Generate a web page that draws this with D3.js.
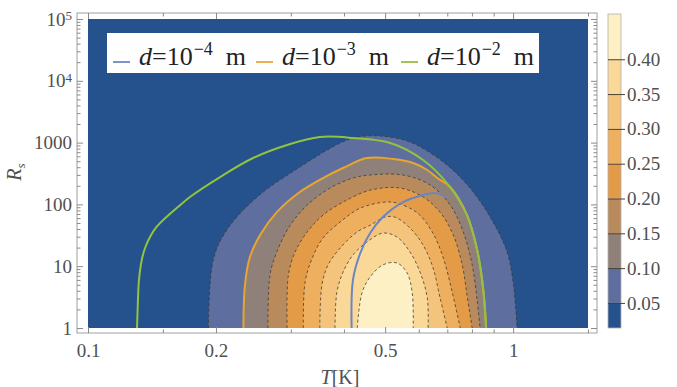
<!DOCTYPE html>
<html>
<head>
<meta charset="utf-8">
<script src="https://cdn.jsdelivr.net/npm/d3@7"></script>
<style>
  body { margin: 0; background: #fff; }
  text { font-family: "Liberation Serif", "Times New Roman", serif; }
</style>
</head>
<body>
<svg id="chart"></svg>
<script>
// contour levels and the colours of the bands between them
const levels = [0.05, 0.10, 0.15, 0.20, 0.25, 0.30, 0.35, 0.40];
const bandColors = ["#25528c", "#5e6e9e", "#8f807a", "#b98b5c", "#e39b48",
                    "#eeb05f", "#f4c47c", "#f9d898", "#fdf0c4"];

// contour boundaries, [T (K), Rs]
const contour05 = [[0.192,1],[0.197,12.6],[0.212,38.5],[0.250,132],[0.315,403],[0.392,985],[0.430,1232],[0.486,1279],[0.572,1023],[0.685,486],[0.792,184],[0.897,52],[0.968,17],[1.0,5.5],[1.022,1]];
const contour10 = [[0.232,1],[0.234,5],[0.240,13.6],[0.254,32],[0.278,75],[0.315,159],[0.357,267],[0.398,388],[0.453,563],[0.522,543],[0.582,468],[0.628,360],[0.663,267],[0.711,191],[0.779,67],[0.823,18.3],[0.850,4.4],[0.864,1]];
const contour15 = [[0.265,1],[0.268,7.2],[0.278,17],[0.299,46],[0.328,98],[0.371,184],[0.420,267],[0.461,299],[0.551,299],[0.638,206],[0.711,98],[0.763,36],[0.801,10.5],[0.823,2.8],[0.836,1]];
const contour20 = [[0.294,1],[0.296,7.2],[0.307,17],[0.328,36],[0.357,67],[0.398,109],[0.461,170],[0.542,184],[0.614,132],[0.673,75],[0.723,32],[0.759,10.5],[0.779,3.4],[0.801,1]];
const contour25 = [[0.321,1],[0.324,5.5],[0.337,13.6],[0.357,28.6],[0.392,52],[0.437,87],[0.500,109],[0.533,105],[0.595,73],[0.645,36],[0.685,13.6],[0.719,3.8],[0.751,1]];
const contour30 = [[0.351,1],[0.355,5],[0.367,10.5],[0.392,19.7],[0.430,36],[0.461,46],[0.500,62.5],[0.528,62],[0.572,41.5],[0.614,22],[0.648,9.4],[0.673,3.1],[0.700,1]];
const contour35 = [[0.381,1],[0.385,3.8],[0.398,8],[0.420,15.2],[0.453,24.6],[0.494,34.4],[0.533,29.7],[0.572,17],[0.604,8],[0.628,3.1],[0.631,1]];
const contour40 = [[0.430,1],[0.441,3.7],[0.461,6.7],[0.494,10.5],[0.533,11.3],[0.563,7.8],[0.579,3.7],[0.582,1]];
const contours = [contour05, contour10, contour15, contour20, contour25, contour30, contour35, contour40];

// the three d curves
const curveD4 = [[0.417,1],[0.420,6],[0.437,16.3],[0.461,34.4],[0.494,62.5],[0.551,109],[0.614,142],[0.655,153],[0.692,132]];
const curveD3 = [[0.232,1],[0.234,5],[0.240,13.6],[0.254,32],[0.278,75],[0.315,159],[0.357,267],[0.398,388],[0.453,563],[0.522,543],[0.582,468],[0.628,360],[0.663,267],[0.711,191],[0.779,67],[0.823,18.3],[0.850,4.4],[0.864,1]];
const curveD2 = [[0.1304,1],[0.1309,2.2],[0.1318,6],[0.1338,12.6],[0.1362,19.7],[0.140,30],[0.1451,43.6],[0.1532,63.2],[0.1628,90.8],[0.174,133],[0.2045,277],[0.2445,563],[0.294,915],[0.351,1232],[0.420,1187],[0.514,985],[0.614,523],[0.711,191],[0.779,67],[0.823,18.3],[0.850,4.4],[0.864,1]];

const legendExponents = ["\u22124", "\u22123", "\u22122"];
const xMajorTicks = [0.1, 0.2, 0.5, 1];
const xMajorLabels = ["0.1", "0.2", "0.5", "1"];
const xMinorTicks = [0.15, 0.3, 0.4, 0.6, 0.7, 0.8, 0.9, 1.5];
const yMajorTicks = [1, 10, 100, 1000, 1e4, 1e5];
const colorbarLabels = ["0.05", "0.10", "0.15", "0.20", "0.25", "0.30", "0.35", "0.40"];

const SERIF = "'Liberation Serif', 'Times New Roman', serif";
const W = 677, H = 387;
const svg = d3.select("#chart").attr("width", W).attr("height", H);
svg.append("rect").attr("width", W).attr("height", H).attr("fill", "#fff");

const x = d3.scaleLog().domain([0.1, 1.5]).range([88, 588]);
const y = d3.scaleLog().domain([1, 1e5]).range([328, 19]);
const frame = { left: 77, right: 597, top: 13, bottom: 333 };

svg.append("defs").append("clipPath").attr("id", "plotClip")
  .append("rect")
  .attr("x", x.range()[0]).attr("y", y.range()[1])
  .attr("width", x.range()[1] - x.range()[0])
  .attr("height", y.range()[0] - y.range()[1]);

const plot = svg.append("g").attr("clip-path", "url(#plotClip)");

plot.append("rect")
  .attr("x", x.range()[0]).attr("y", y.range()[1])
  .attr("width", x.range()[1] - x.range()[0])
  .attr("height", y.range()[0] - y.range()[1])
  .attr("fill", bandColors[0]);

const line = d3.line()
  .x((d) => x(d[0]))
  .y((d) => y(d[1]))
  .curve(d3.curveCatmullRom.alpha(0.5));

// filled domes, outer to inner
plot.selectAll("path.band")
  .data(contours)
  .join("path")
  .classed("band", true)
  .attr("d", (d) => line(d) + "Z")
  .attr("fill", (d, i) => bandColors[i + 1]);

plot.selectAll("path.contour")
  .data(contours)
  .join("path")
  .classed("contour", true)
  .attr("d", line)
  .attr("fill", "none")
  .attr("stroke", "#3b3630")
  .attr("stroke-opacity", 0.75)
  .attr("stroke-width", 1)
  .attr("stroke-dasharray", "3,2.5");

const curves = [
  { pts: curveD3, color: "#e8a630" },
  { pts: curveD2, color: "#8fc340" },
  { pts: curveD4, color: "#6a86c2" },
];
plot.selectAll("path.dcurve")
  .data(curves)
  .join("path")
  .classed("dcurve", true)
  .attr("d", (d) => line(d.pts))
  .attr("fill", "none")
  .attr("stroke", (d) => d.color)
  .attr("stroke-width", 2);

// frame with inward ticks on all four sides
svg.append("rect")
  .attr("x", frame.left).attr("y", frame.top)
  .attr("width", frame.right - frame.left)
  .attr("height", frame.bottom - frame.top)
  .attr("fill", "none").attr("stroke", "#a0a0a0").attr("stroke-width", 1);

function styleAxis(g) {
  g.attr("font-family", SERIF).attr("font-size", 19);
  g.select(".domain").remove();
  g.selectAll(".tick line").attr("stroke", "#8a8a8a");
  g.selectAll(".tick text")
    .attr("fill", "#505050")
    .style("font-family", SERIF);
}

const yMinor = y.ticks().filter((v) => !yMajorTicks.includes(v));

svg.append("g").attr("transform", `translate(0,${frame.bottom})`)
  .call(d3.axisBottom(x).tickValues(xMajorTicks).tickSize(-6).tickPadding(11)
    .tickFormat((d, i) => xMajorLabels[i]))
  .call(styleAxis);
svg.append("g").attr("transform", `translate(0,${frame.bottom})`)
  .call(d3.axisBottom(x).tickValues(xMinorTicks).tickSize(-3.5).tickFormat(""))
  .call(styleAxis);
svg.append("g").attr("transform", `translate(0,${frame.top})`)
  .call(d3.axisTop(x).tickValues(xMajorTicks).tickSize(-6).tickFormat(""))
  .call(styleAxis);
svg.append("g").attr("transform", `translate(0,${frame.top})`)
  .call(d3.axisTop(x).tickValues(xMinorTicks).tickSize(-3.5).tickFormat(""))
  .call(styleAxis);

const yAxis = svg.append("g").attr("transform", `translate(${frame.left},0)`)
  .call(d3.axisLeft(y).tickValues(yMajorTicks).tickSize(-6).tickPadding(5)
    .tickFormat((d) => (d < 1e4 ? String(d) : "")))
  .call(styleAxis);
yAxis.selectAll(".tick text").filter((d) => d >= 1e4).each(function (d) {
  const t = d3.select(this);
  t.append("tspan").text("10");
  t.append("tspan").attr("dy", "-0.45em").attr("font-size", 13)
    .text(String(Math.round(Math.log10(d))));
});
svg.append("g").attr("transform", `translate(${frame.left},0)`)
  .call(d3.axisLeft(y).tickValues(yMinor).tickSize(-3.5).tickFormat(""))
  .call(styleAxis);
svg.append("g").attr("transform", `translate(${frame.right},0)`)
  .call(d3.axisRight(y).tickValues(yMajorTicks).tickSize(-6).tickFormat(""))
  .call(styleAxis);
svg.append("g").attr("transform", `translate(${frame.right},0)`)
  .call(d3.axisRight(y).tickValues(yMinor).tickSize(-3.5).tickFormat(""))
  .call(styleAxis);

// axis titles
svg.append("text")
  .attr("x", 340).attr("y", 384)
  .attr("text-anchor", "middle").attr("font-size", 20).attr("fill", "#505050")
  .call((t) => {
    t.append("tspan").attr("font-style", "italic").text("T");
    t.append("tspan").text("[K]");
  });
svg.append("text")
  .attr("transform", "translate(21,172) rotate(-90)")
  .attr("text-anchor", "middle").attr("font-size", 20).attr("fill", "#505050")
  .call((t) => {
    t.append("tspan").attr("font-style", "italic").text("R");
    t.append("tspan").attr("font-style", "italic").attr("font-size", 13)
      .attr("dy", "0.3em").text("s");
  });

// colour bar
const cb = d3.scaleLinear().domain([0.014, 0.465]).range([328, 14]);
const cbX = 608, cbW = 13;
const bounds = [cb.domain()[0], ...levels, cb.domain()[1]];
const cbar = svg.append("g");
cbar.selectAll("rect.cb")
  .data(bandColors)
  .join("rect")
  .classed("cb", true)
  .attr("x", cbX).attr("width", cbW)
  .attr("y", (d, i) => cb(bounds[i + 1]))
  .attr("height", (d, i) => cb(bounds[i]) - cb(bounds[i + 1]))
  .attr("fill", (d) => d);
cbar.append("rect")
  .attr("x", cbX).attr("y", cb.range()[1])
  .attr("width", cbW).attr("height", cb.range()[0] - cb.range()[1])
  .attr("fill", "none").attr("stroke", "#b0b0b0").attr("stroke-width", 0.8);
cbar.append("g").attr("transform", `translate(${cbX + cbW},0)`)
  .call(d3.axisRight(cb).tickValues(levels).tickSize(4).tickPadding(2)
    .tickFormat((d, i) => colorbarLabels[i]))
  .call(styleAxis)
  .call((g) => g.selectAll(".tick line").attr("x1", -cbW).attr("stroke", "#4a4036"));

// legend
const legend = svg.append("g");
legend.append("rect")
  .attr("x", 107).attr("y", 33).attr("width", 432).attr("height", 40)
  .attr("fill", "#fff");
const entryX = [113, 256, 401];
const entryColors = ["#7d95c6", "#e8b050", "#9fc655"];
entryX.forEach((ex, i) => {
  legend.append("line")
    .attr("x1", ex).attr("x2", ex + 17).attr("y1", 62).attr("y2", 62)
    .attr("stroke", entryColors[i]).attr("stroke-width", 2);
  const t = legend.append("text")
    .attr("x", ex + 26).attr("y", 65)
    .attr("font-size", 26).attr("fill", "#222");
  t.append("tspan").attr("font-style", "italic").text("d");
  t.append("tspan").text("=10");
  t.append("tspan").attr("font-size", 18).attr("dy", -10).attr("dx", 1).text(legendExponents[i]);
  t.append("tspan").attr("dy", 10).attr("dx", 13).text("m");
});
</script>
</body>
</html>
